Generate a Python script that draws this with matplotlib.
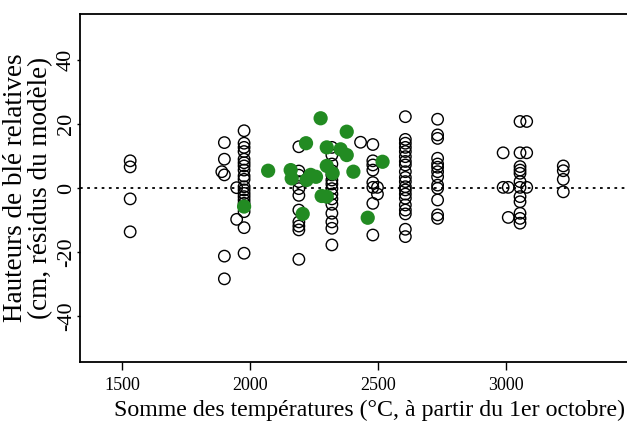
import matplotlib.pyplot as plt

plt.rcParams['font.family'] = ['Liberation Serif', 'DejaVu Serif']
plt.rcParams['axes.unicode_minus'] = False

# parcelles (cercles vides) : somme des temperatures par groupe, puis residus
groupes_temp = [1532, 1890, 1900, 1948, 1977, 2191, 2320, 2432, 2480, 2498,
                2607, 2733, 2989, 3009, 3055, 3081, 3224]
groupes_resid = [
    [8.5, 6.6, -3.4, -13.7],
    [5.1],
    [14.2, 9.0, 4.1, -21.3, -28.4],
    [0.1, -9.8],
    [17.9, 14.0, 12.7, 11.4, 9.0, 7.9, 6.9, 5.6, 3.75, 2.7, 0.4, -0.6,
     -1.7, -2.7, -3.75, -4.8, -7.4, -12.4, -20.4],
    [12.9, 5.3, 4.0, 2.0, -0.2, -2.3, -6.9, -10.6, -11.9, -13.1, -22.3],
    [12.7, 10.3, 7.5, 5.4, 4.1, 2.5, 1.25, -0.2, -1.9, -3.4, -5.1, -7.9,
     -10.6, -12.6, -17.8],
    [14.3],
    [13.6, 8.5, 7.2, 5.6, 1.7, 0.2, -4.8, -14.7],
    [0.2, -1.9],
    [22.3, 15.2, 14.0, 12.7, 11.4, 9.8, 8.3, 7.2, 5.1, 3.3, 2.0, 0.4, -0.6,
     -1.9, -3.2, -5.3, -6.9, -8.1, -12.9, -15.2],
    [21.5, 16.6, 15.5, 9.3, 7.5, 6.5, 5.1, 3.5, 0.9, -0.1, -3.75, -8.4, -9.5],
    [11.0, 0.2],
    [0.2, -9.2],
    [20.8, 11.0, 6.7, 5.6, 4.6, 2.0, 0.2, -2.7, -4.3, -7.9, -9.5, -11.0],
    [20.8, 11.0, 0.2],
    [6.9, 5.4, 2.7, -1.2],
]

# points verts
vert_temp = [2071, 2276, 2378, 2219, 2300, 2354, 2378, 2159, 2163, 2221, 2237,
             2258, 2300, 2323, 2404, 2518, 2280, 2300, 2206, 2460, 1977]
vert_resid = [5.4, 21.8, 17.6, 14.0, 12.7, 12.1, 10.3, 5.6, 3.0, 2.5, 4.1,
              3.5, 6.9, 4.6, 5.1, 8.2, -2.5, -2.7, -8.1, -9.3, -5.8]

xticks = [1500, 2000, 2500, 3000]
yticks = [-40, -20, 0, 20, 40]

open_x = []
open_y = []
for t, ys in zip(groupes_temp, groupes_resid):
    open_x += [t] * len(ys)
    open_y += ys

fig = plt.figure(figsize=(6.27, 4.25), dpi=100)
# le cadre continue au-dela du bord droit de l'image
ax = fig.add_axes([80 / 627, 63 / 425, 578 / 627, 348 / 425])

ax.axhline(0, color='black', linestyle=(0, (1.5, 2.5)), linewidth=1.3, zorder=1)
ax.scatter(open_x, open_y, s=68, facecolors='none', edgecolors='black',
           linewidths=1.0, zorder=2)
ax.scatter(vert_temp, vert_resid, s=105, color='#228B22', edgecolors='none',
           zorder=3)

ax.set_xlim(1336, 3594)
ax.set_ylim(-54.4, 54.4)
ax.set_xticks(xticks)
ax.set_yticks(yticks)
ax.tick_params(axis='x', direction='out', length=6, width=1, pad=5,
               labelsize=13, colors='black')
ax.tick_params(axis='y', direction='out', length=2, width=1, pad=1,
               labelsize=16, colors='black')
for lab in ax.get_yticklabels():
    lab.set_rotation(90)
    lab.set_va('center')

ax.spines['right'].set_visible(False)
for s in ['left', 'top', 'bottom']:
    ax.spines[s].set_linewidth(1.3)

ax.set_xlabel('Somme des températures (°C, à partir du 1er octobre)',
              fontsize=17.2, labelpad=4)
ax.set_ylabel('Hauteurs de blé relatives\n(cm, résidus du modèle)',
              fontsize=19.5, linespacing=1.0)
ax.yaxis.set_label_coords(-0.046, 0.5)

fig.savefig('out.png', dpi=100)
